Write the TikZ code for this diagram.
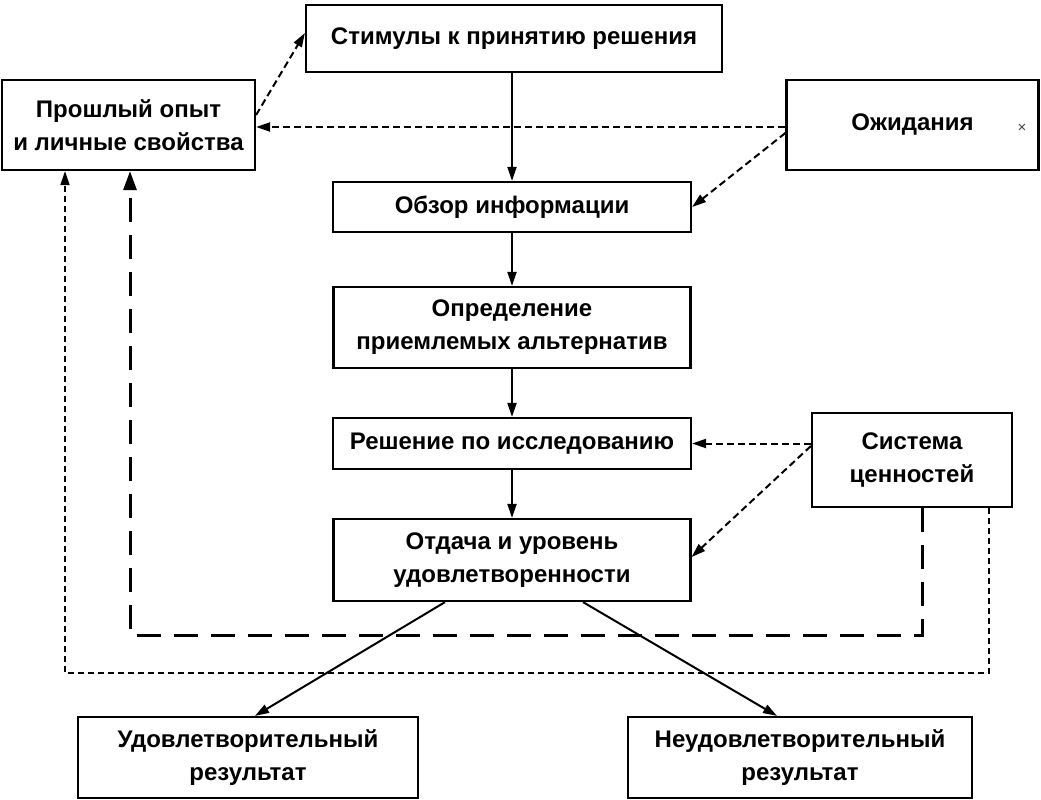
\documentclass[tikz,border=0pt]{standalone}
\usepackage{fontspec}
\setmainfont{Liberation Sans}
\usetikzlibrary{arrows.meta,calc}
\tikzset{
  box/.style={draw, line width=2.2pt, inner sep=0pt, align=center,
    font=\fontsize{24}{33}\selectfont\bfseries},
  arr/.style={line width=2pt, -{Triangle[length=14pt,width=9pt]}},
  dsh/.style={line width=2pt, dash pattern=on 7pt off 4pt, -{Triangle[length=14pt,width=9pt]}},
  ldsh/.style={line width=3pt, dash pattern=on 24pt off 13pt, -{Triangle[length=19pt,width=13pt]}},
  sdsh/.style={line width=1.8pt, dash pattern=on 6pt off 4pt, -{Triangle[length=14pt,width=9pt]}}
}
\begin{document}
\begin{tikzpicture}[x=1pt,y=-1pt]
\useasboundingbox (0,0) rectangle (1041,800);
\node[box, minimum width=416pt, minimum height=67pt] (stim) at (514,38.5) {Стимулы к принятию решения};
\node[box, minimum width=253pt, minimum height=90pt] (past) at (128.5,125) {Прошлый опыт\\и личные свойства};
\node[box, minimum width=252pt, minimum height=90pt] (exp) at (912.5,125) {Ожидания};
\node[font=\fontsize{15}{15}\selectfont, text=black!75] (xmark) at (1022,128) {×};
\node[box, minimum width=358pt, minimum height=50pt] (obz) at (512,207) {Обзор информации};
\node[box, minimum width=357pt, minimum height=81pt] (opr) at (512,327.5) {Определение\\приемлемых альтернатив};
\node[box, minimum width=358pt, minimum height=51pt] (res) at (512,443.5) {Решение по исследованию};
\node[box, minimum width=200pt, minimum height=94pt] (sys) at (912,460) {Система\\ценностей};
\node[box, minimum width=357pt, minimum height=82pt] (otd) at (512,560) {Отдача и уровень\\удовлетворенности};
\node[box, minimum width=340pt, minimum height=81pt] (udv) at (248,757.5) {Удовлетворительный\\результат};
\node[box, minimum width=344pt, minimum height=81pt] (neu) at (800,757.5) {Неудовлетворительный\\результат};

% main column
\draw[arr] (stim.south -| obz.north) -- (obz.north);
\draw[arr] (obz) -- (opr);
\draw[arr] (opr) -- (res);
\draw[arr] (res) -- (otd);

% dashed influences
\draw[dsh] ([yshift=10pt]past.east) -- ([yshift=5.5pt]stim.west);
\draw[dsh] ([yshift=-2pt]exp.west) -- ([yshift=-2pt]past.east);
\draw[dsh] ([yshift=-8pt]exp.west) -- (obz.east);
\draw[dsh] (sys.west |- res.east) -- (res.east);
\draw[dsh] ([yshift=14pt]sys.west) -- ([yshift=3pt]otd.east);

% feedback loops
\coordinate (l1) at (130,635);
\coordinate (l2) at (65,673);
\draw[ldsh] ([xshift=10pt]sys.south) |- (l1) -- (l1 |- past.south);
\draw[sdsh] ([xshift=77pt]sys.south) |- (l2) -- (l2 |- past.south);

% results
\draw[arr] ([xshift=-67pt]otd.south) -- ([xshift=7pt]udv.north);
\draw[arr] ([xshift=71pt]otd.south) -- ([xshift=-23pt]neu.north);
\end{tikzpicture}
\end{document}
